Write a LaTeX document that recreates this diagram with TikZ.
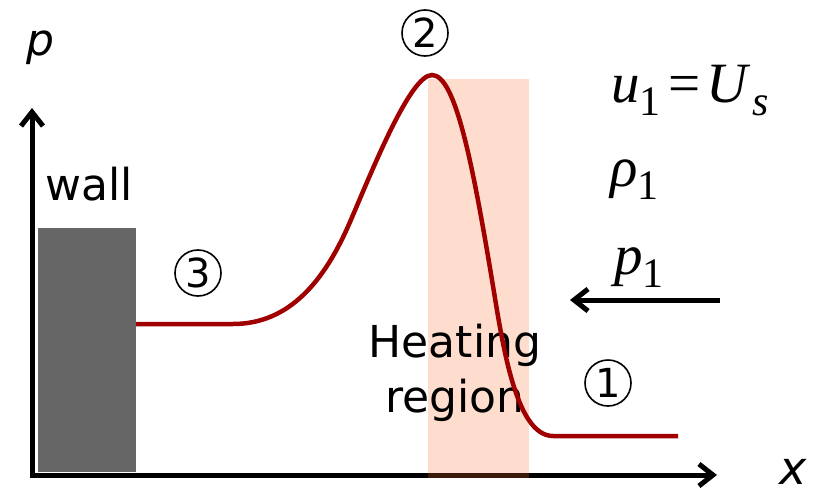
\documentclass[tikz,border=0pt]{standalone}
\usepackage{fontspec}
\setmainfont{DejaVu Sans}
\newfontfamily\tnr{Liberation Serif}
\usetikzlibrary{arrows.meta}
\definecolor{curvered}{RGB}{160,0,0}
\definecolor{wallgray}{RGB}{102,102,102}
\definecolor{heat}{RGB}{255,110,45}
\newcommand{\subsc}[1]{\raisebox{-13pt}{\fontsize{42}{42}\selectfont #1}}
\begin{document}
\begin{tikzpicture}[x=1pt,y=-1pt,
  axis/.style={line width=5pt,line join=miter,{Straight Barb[length=14pt,width=22pt]}-{Straight Barb[length=14pt,width=22pt]}},
  flowarrow/.style={line width=5pt,-{Straight Barb[length=14pt,width=22pt]}},
  lbl/.style={inner sep=0pt,anchor=base,font=\fontsize{44}{53}\selectfont},
  circnum/.style={circle,draw,line width=1.6pt,minimum size=46pt,inner sep=0pt,font=\fontsize{40}{48}\selectfont},
  mathlbl/.style={inner sep=0pt,anchor=base west,font=\fontsize{57}{64}\selectfont\tnr},
  pcurve/.style={line width=4.5pt,curvered,line cap=butt}]
\useasboundingbox (0,0) rectangle (813,487);
% axes
\coordinate (ytip) at (32,108);
\coordinate (xtip) at (717,475);
\draw[axis] (ytip) |- (xtip);
% heating region
\fill[heat,fill opacity=0.23] (428,79) rectangle (529,478);
% wall
\fill[wallgray] (38,228) rectangle (136,472);
\node[lbl] (wall) at (89,200) {wall};
% axis labels
\node[lbl,anchor=base west] (plabel) at (26,56) {\itshape p};
\node[lbl,anchor=base west,font=\fontsize{46}{53}\selectfont] (xlabel) at (779,484) {\itshape x};
% heating region text
\node[lbl] (heating) at (455,357) {Heating};
\node[lbl] (region) at (455,412) {region};
% pressure curve
\draw[pcurve] (136,324) -- (233,324)
  .. controls (290,324) and (325,280) .. (350,222)
  .. controls (372,171) and (410,75) .. (432,75)
  .. controls (455,75) and (472,160) .. (492,280)
  .. controls (502,340) and (515,436) .. (553,436)
  -- (678,436);
% state numbers
\node[circnum] (s1) at (608,383) {1};
\node[circnum] (s2) at (425,33) {2};
\node[circnum] (s3) at (198,273) {3};
% upstream conditions
\node[mathlbl] (u1) at (611,102) {\itshape u\subsc{\upshape 1}\hspace{8pt}\upshape =\hspace{6pt}\itshape U\hspace{4pt}\subsc{s}};
\node[mathlbl] (rho1) at (610,186) {\itshape ρ\subsc{\upshape 1}};
\node[mathlbl] (p1) at (614,274) {\itshape p\subsc{\upshape 1}};
\coordinate (flowstart) at (720,300);
\coordinate (flowend) at (570,300);
\draw[flowarrow] (flowstart) -- (flowend);
\end{tikzpicture}
\end{document}
